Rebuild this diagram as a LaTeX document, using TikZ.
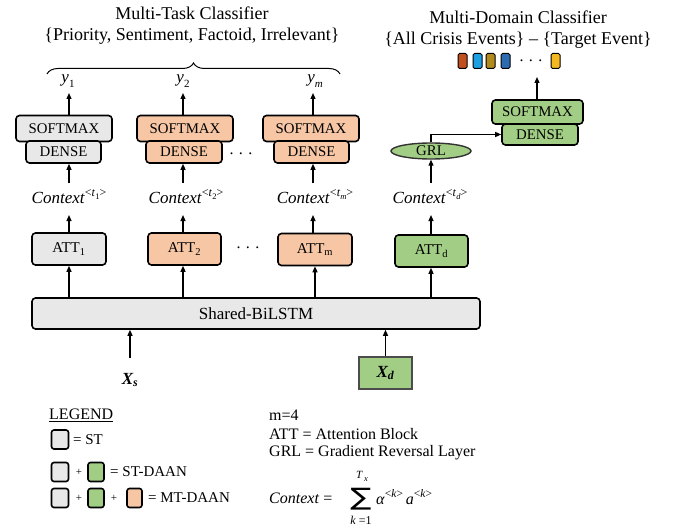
\documentclass[tikz,border=0pt]{standalone}
\usepackage{fontspec}
\usepackage{graphicx}
\setmainfont{Liberation Serif}
\newfontfamily\symfont{DejaVu Sans}
\usetikzlibrary{arrows.meta,decorations.pathreplacing,shapes.geometric}
\definecolor{gfill}{HTML}{E8E8E8}
\definecolor{ofill}{HTML}{F7C7A5}
\definecolor{grfill}{HTML}{A2CD84}
\definecolor{c1}{HTML}{C0501E}
\definecolor{c2}{HTML}{1DA0E2}
\definecolor{c3}{HTML}{B08A1C}
\definecolor{c4}{HTML}{2D6BB1}
\definecolor{c5}{HTML}{F6B822}
\newcommand\ctxlab[1]{\textit{Context}\raisebox{0.42em}{\fontsize{12}{12}\selectfont<\textit{t}\raisebox{-0.25em}{\fontsize{8.5}{8.5}\selectfont #1}>}}
\newcommand\ylab[1]{\textit{y}\raisebox{-0.25em}{\fontsize{11}{11}\selectfont #1}}
\newcommand\suplab[1]{\raisebox{0.45em}{\fontsize{11.5}{11.5}\selectfont #1}}
\begin{document}
\begin{tikzpicture}[x=1pt,y=-1pt,
  box/.style={draw=black,line width=1.6pt,rounded corners=3.5pt,inner sep=0pt,font=\fontsize{14.8}{14.8}\selectfont},
  arr/.style={line width=1.2pt,-{Triangle[length=6pt,width=5pt]}},
  lab/.style={inner sep=0pt,font=\fontsize{15}{15}\selectfont},
  ttl/.style={inner sep=0pt,font=\fontsize{18}{18}\selectfont},
  note/.style={inner sep=0pt,anchor=west,font=\fontsize{16}{16}\selectfont},
  sq/.style={draw=black,line width=1.6pt,rounded corners=2.5pt,minimum width=17pt,minimum height=19pt,inner sep=0pt},
  csq/.style={draw=black,line width=1pt,rounded corners=1.5pt,minimum width=9pt,minimum height=15pt,inner sep=0pt}]
\useasboundingbox (0,0) rectangle (681,527);
% titles
\node[ttl] (t1) at (192,13) {Multi-Task Classifier};
\node[ttl] (t2) at (192,36) {\{Priority, Sentiment, Factoid, Irrelevant\}};
\node[ttl] (t3) at (518,17) {Multi-Domain Classifier};
\node[ttl] (t4) at (518,40) {\{All Crisis Events\} – \{Target Event\}};
\draw[line width=1pt,decorate,decoration={brace,amplitude=11pt,aspect=0.5}] (47,74) -- (340,74);
% outputs
\node[lab,font=\fontsize{17}{17}\selectfont] (y1) at (68,81) {\ylab{1}};
\node[lab,font=\fontsize{17}{17}\selectfont] (y2) at (183,81) {\ylab{2}};
\node[lab,font=\fontsize{17}{17}\selectfont] (ym) at (315,81) {\ylab{\textit{m}}};
% softmax/dense
\node[box,fill=gfill,minimum width=96pt,minimum height=26pt] (sm1) at (64,128.5) {\raisebox{-1pt}{SOFTMAX}};
\node[box,fill=gfill,minimum width=75pt,minimum height=22pt] (dn1) at (63.5,152) {DENSE};
\node[box,fill=ofill,minimum width=96pt,minimum height=26pt] (sm2) at (185,128.5) {\raisebox{-1pt}{SOFTMAX}};
\node[box,fill=ofill,minimum width=76pt,minimum height=22pt] (dn2) at (184,152) {DENSE};
\node[box,fill=ofill,minimum width=96pt,minimum height=26pt] (smm) at (311,128.5) {\raisebox{-1pt}{SOFTMAX}};
\node[box,fill=ofill,minimum width=75pt,minimum height=22pt] (dnm) at (311.5,152) {DENSE};
\node[lab,font=\fontsize{16}{16}\selectfont] (dots1) at (241,154) {. . .};
% domain head
\node[box,fill=grfill,minimum width=91pt,minimum height=24pt] (smd) at (537.5,112) {\raisebox{-1pt}{SOFTMAX}};
\node[box,fill=grfill,minimum width=76pt,minimum height=21pt] (dnd) at (540,134.5) {DENSE};
\node[ellipse,draw=black!80,line width=1.4pt,fill=grfill,minimum width=80pt,minimum height=16pt,inner sep=0pt,font=\fontsize{14.8}{14.8}\selectfont] (grl) at (431,151) {GRL};
% colored squares
\node[csq,fill=c1] (e1) at (462.5,61) {};
\node[csq,fill=c2] (e2) at (477.5,61) {};
\node[csq,fill=c3] (e3) at (490.5,61) {};
\node[csq,fill=c4] (e4) at (505.5,61) {};
\node[lab,font=\fontsize{16}{16}\selectfont] (edots) at (531,61) {. . .};
\node[csq,fill=c5] (e5) at (555.5,61) {};
\coordinate (dtop) at (537,77);
% contexts
\node[lab,font=\fontsize{17}{17}\selectfont] (ctx1) at (69,197) {\ctxlab{1}};
\node[lab,font=\fontsize{17}{17}\selectfont] (ctx2) at (186,197) {\ctxlab{2}};
\node[lab,font=\fontsize{17}{17}\selectfont] (ctxm) at (315,197) {\ctxlab{\textit{m}}};
\node[lab,font=\fontsize{17}{17}\selectfont] (ctxd) at (430,197) {\ctxlab{\textit{d}}};
% attention
\node[box,fill=gfill,minimum width=74pt,minimum height=32pt,font=\fontsize{15}{15}\selectfont] (att1) at (69,249) {ATT\textsubscript{1}};
\node[box,fill=ofill,minimum width=73pt,minimum height=32pt,font=\fontsize{15}{15}\selectfont] (att2) at (184.5,249) {ATT\textsubscript{2}};
\node[box,fill=ofill,minimum width=74pt,minimum height=32pt,font=\fontsize{15}{15}\selectfont] (attm) at (315,249.5) {ATT\textsubscript{m}};
\node[box,fill=grfill,minimum width=73pt,minimum height=32pt,font=\fontsize{15}{15}\selectfont] (attd) at (431.5,251) {ATT\textsubscript{d}};
\node[lab,font=\fontsize{16}{16}\selectfont] (dots2) at (248,248) {. . .};
% bilstm
\node[box,fill=gfill,minimum width=448pt,minimum height=31pt,font=\fontsize{17}{17}\selectfont] (lstm) at (256,313.5) {Shared-BiLSTM};
\node[lab,font=\fontsize{17}{17}\selectfont] (xs) at (130,380) {\textbf{\textit{X\textsubscript{s}}}};
\node[draw=black!70,line width=1.6pt,fill=grfill,minimum width=53pt,minimum height=32pt,inner sep=0pt,font=\fontsize{17}{17}\selectfont] (xd) at (385.5,373) {\textbf{\textit{X\textsubscript{d}}}};
% arrows
\draw[arr] (sm1.north -| att1) -- (att1 |- 0,93);
\draw[arr] (sm2.north -| 183,0) -- (183,93);
\draw[arr] (smm.north -| 313,0) -- (313,93);
\draw[arr] (att1 |- 0,183) -- (att1 |- dn1.south);
\draw[arr] (183,183) -- (dn2.south -| 183,0);
\draw[arr] (313,183) -- (dnm.south -| 313,0);
\draw[arr] (att1.north) -- (att1 |- 0,215);
\draw[arr] (att2.north -| 183,0) -- (183,215);
\draw[arr] (attm.north -| 313,0) -- (313,215);
\draw[arr] (attd.north -| grl) -- (grl |- 0,215);
\draw[arr] (grl |- 0,183) -- (grl.south);
\draw[arr] (grl.north) |- (dnd.west);
\draw[arr] (smd.north -| dtop) -- (dtop);
\draw[arr] (lstm.north -| att1) -- (att1.south);
\draw[arr] (lstm.north -| 183,0) -- (att2.south -| 183,0);
\draw[arr] (lstm.north -| 315,0) -- (attm.south);
\draw[arr] (lstm.north -| grl) -- (attd.south -| grl);
\draw[arr] (130,358) -- (lstm.south -| 130,0);
\draw[arr] (xd.north) -- (lstm.south -| xd);
% legend
\node[note] (leg) at (49,415) {\underline{LEGEND}};
\node[sq,fill=gfill] (l1a) at (60,439.5) {};
\node[lab,anchor=west] (l1t) at (73,440) {= ST};
\node[sq,fill=gfill] (l2a) at (60,472) {};
\node[lab,font=\fontsize{11}{11}\selectfont] (l2p1) at (79,472) {+};
\node[sq,fill=grfill,minimum width=16pt] (l2b) at (96,472) {};
\node[lab,anchor=west] (l2t) at (110,472) {= ST-DAAN};
\node[sq,fill=gfill] (l3a) at (60,498) {};
\node[lab,font=\fontsize{11}{11}\selectfont] (l3p1) at (79,498) {+};
\node[sq,fill=grfill,minimum width=16pt] (l3b) at (96,498) {};
\node[lab,font=\fontsize{11}{11}\selectfont] (l3p2) at (114,498) {+};
\node[sq,fill=ofill,minimum width=15pt] (l3c) at (134.5,498) {};
\node[lab,anchor=west] (l3t) at (148,498) {= MT-DAAN};
% notes
\node[note] (n1) at (269,415) {m=4};
\node[note] (n2) at (269,434) {ATT = Attention Block};
\node[note] (n3) at (269,453) {GRL = Gradient Reversal Layer};
\node[note] (n4) at (269,498) {\textit{Context} =};
\node[inner sep=0pt,font=\symfont\fontsize{24}{24}\selectfont] (sum) at (361,499) {\scalebox{1.3}[1]{∑}};
\node[inner sep=0pt,font=\fontsize{11}{11}\selectfont] (tx) at (362,476.5) {\textit{T}\kern1pt\raisebox{-0.25em}{\fontsize{8.5}{8.5}\selectfont\textit{x}}};
\node[inner sep=0pt,font=\fontsize{12}{12}\selectfont] (k1) at (361,520) {\textit{k} =1};
\node[note] (n5) at (376,497) {\textit{α}\suplab{<\textit{k}>}\,\textit{a}\suplab{<\textit{k}>}};
\end{tikzpicture}
\end{document}
